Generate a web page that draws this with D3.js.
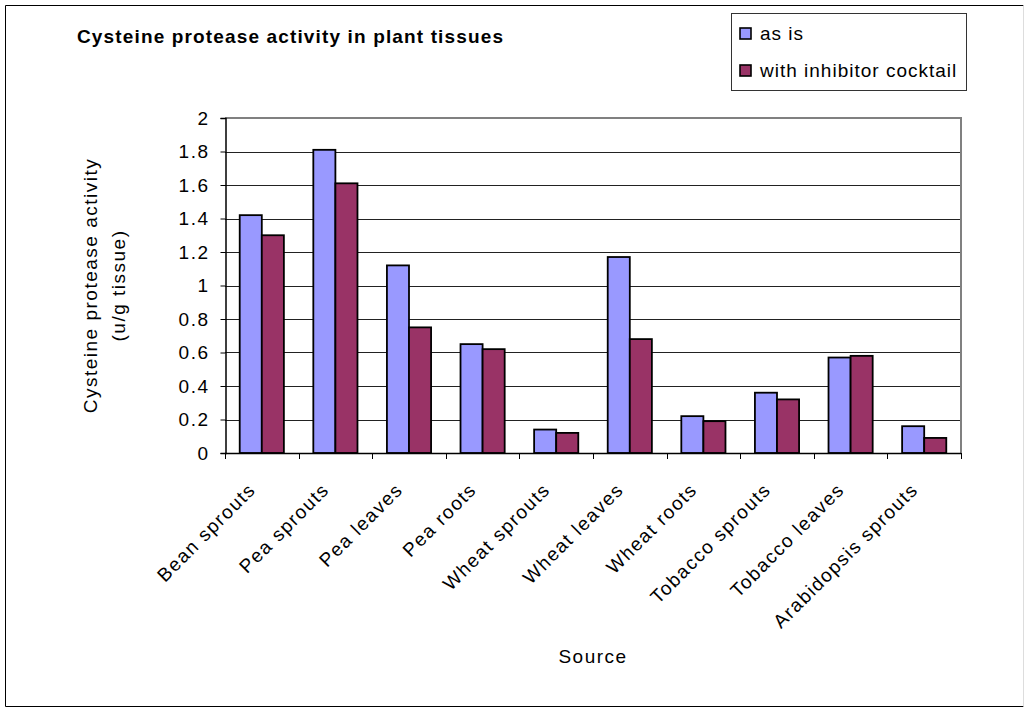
<!DOCTYPE html>
<html>
<head>
<meta charset="utf-8">
<script src="https://cdn.jsdelivr.net/npm/d3@7"></script>
<style>
  html, body { margin: 0; padding: 0; background: #fff; }
  svg { display: block; }
  text { font-family: "Liberation Sans", Arial, sans-serif; fill: #000; }
  .lbl { font-size: 19px; letter-spacing: 1.5px; }
  .leg { font-size: 19px; letter-spacing: 1px; }
</style>
</head>
<body>
<svg id="chart" width="1024" height="707"></svg>
<script>
// Cysteine protease activity (u/g tissue) per plant source
const categories = ["Bean sprouts", "Pea sprouts", "Pea leaves", "Pea roots", "Wheat sprouts",
  "Wheat leaves", "Wheat roots", "Tobacco sprouts", "Tobacco leaves", "Arabidopsis sprouts"];
const seriesNames = ["as is", "with inhibitor cocktail"];
const asIs = [1.42, 1.81, 1.12, 0.65, 0.14, 1.17, 0.22, 0.36, 0.57, 0.16];
const withInhibitor = [1.30, 1.61, 0.75, 0.62, 0.12, 0.68, 0.19, 0.32, 0.58, 0.09];
const yTicks = [0, 0.2, 0.4, 0.6, 0.8, 1, 1.2, 1.4, 1.6, 1.8, 2];
const colors = ["#9999FF", "#993366"];

const svg = d3.select("#chart");
const plot = { left: 225, right: 961, top: 118, bottom: 453 };

// outer chart frame
svg.append("line").attr("x1", 5.5).attr("x2", 5.5).attr("y1", 5.5).attr("y2", 706.5).attr("stroke", "#000");
svg.append("line").attr("x1", 5.5).attr("x2", 1023.5).attr("y1", 5.5).attr("y2", 5.5).attr("stroke", "#000");
svg.append("line").attr("x1", 5.5).attr("x2", 1023.5).attr("y1", 706.5).attr("y2", 706.5).attr("stroke", "#000");
svg.append("line").attr("x1", 1023.5).attr("x2", 1023.5).attr("y1", 5.5).attr("y2", 706.5).attr("stroke", "#ddd");

const x = d3.scaleBand().domain(categories).range([plot.left, plot.right]).padding(0);
const bw = x.bandwidth();
const x1 = d3.scaleBand().domain(seriesNames).range([bw * 0.2, bw * 0.8]).padding(0);
const y = d3.scaleLinear().domain([0, 2]).range([plot.bottom, plot.top]);

// horizontal gridlines
svg.append("g").selectAll("line")
  .data(yTicks.filter(v => v > 0 && v < 2))
  .join("line")
  .attr("x1", plot.left).attr("x2", plot.right)
  .attr("y1", d => Math.round(y(d)) + 0.5).attr("y2", d => Math.round(y(d)) + 0.5)
  .attr("stroke", "#222").attr("stroke-width", 1);

// plot area border (top and right)
svg.append("path")
  .attr("d", `M${plot.left},${plot.top}H${plot.right}V${plot.bottom}`)
  .attr("fill", "none").attr("stroke", "#808080").attr("stroke-width", 2);

// bars
const series = [asIs, withInhibitor];
const rows = [];
categories.forEach((c, i) => seriesNames.forEach((s, j) => rows.push({ c, s, v: series[j][i], j })));
svg.append("g").selectAll("rect")
  .data(rows)
  .join("rect")
  .attr("x", d => x(d.c) + x1(d.s))
  .attr("width", x1.bandwidth())
  .attr("y", d => y(d.v))
  .attr("height", d => y(0) - y(d.v))
  .attr("fill", d => colors[d.j])
  .attr("stroke", "#000").attr("stroke-width", 1.8);

// y axis
const yAxis = svg.append("g")
  .attr("transform", `translate(${plot.left + 0.5},0)`)
  .call(d3.axisLeft(y).tickValues(yTicks).tickSize(5).tickPadding(11).tickFormat(d3.format("~g")));
yAxis.select(".domain").attr("stroke", "#000").attr("stroke-width", 1.5);
yAxis.selectAll(".tick line").attr("stroke", "#000");
yAxis.selectAll(".tick text").attr("class", "lbl").attr("font-family", null).attr("font-size", null);

// x axis: ticks at category boundaries
const xAxisG = svg.append("g");
xAxisG.append("line")
  .attr("x1", plot.left).attr("x2", plot.right)
  .attr("y1", plot.bottom + 0.5).attr("y2", plot.bottom + 0.5)
  .attr("stroke", "#000").attr("stroke-width", 1.5);
const boundaries = categories.map(c => x(c)).concat([plot.right]);
xAxisG.selectAll("line.tk")
  .data(boundaries)
  .join("line").attr("class", "tk")
  .attr("x1", d => Math.round(d) + 0.5).attr("x2", d => Math.round(d) + 0.5)
  .attr("y1", plot.bottom).attr("y2", plot.bottom + 6)
  .attr("stroke", "#000");

xAxisG.selectAll("text")
  .data(categories)
  .join("text")
  .attr("class", "lbl")
  .attr("text-anchor", "end")
  .attr("transform", d => `translate(${x(d) + bw / 2 - 5},${plot.bottom + 38}) rotate(-45)`)
  .text(d => d);

// axis titles
svg.append("text").attr("class", "lbl")
  .attr("x", (plot.left + plot.right) / 2).attr("y", 663)
  .attr("text-anchor", "middle").text("Source");

const yt = svg.append("g").attr("transform", `translate(97,${(plot.top + plot.bottom) / 2}) rotate(-90)`);
yt.append("text").attr("class", "lbl").attr("text-anchor", "middle").attr("y", 0).text("Cysteine protease activity");
yt.append("text").attr("class", "lbl").attr("text-anchor", "middle").attr("y", 28).text("(u/g tissue)");

// chart title
svg.append("text")
  .attr("x", 77).attr("y", 43)
  .attr("font-size", 19).attr("font-weight", "bold")
  .attr("textLength", 426).attr("lengthAdjust", "spacing")
  .text("Cysteine protease activity in plant tissues");

// legend
const lg = svg.append("g");
lg.append("rect").attr("x", 731.5).attr("y", 13.5).attr("width", 235).attr("height", 77)
  .attr("fill", "#fff").attr("stroke", "#333").attr("stroke-width", 1);
seriesNames.forEach((s, j) => {
  const yy = 28 + j * 37;
  lg.append("rect").attr("x", 740).attr("y", yy).attr("width", 11).attr("height", 11)
    .attr("fill", colors[j]).attr("stroke", "#000").attr("stroke-width", 1.6);
  lg.append("text").attr("class", "leg").attr("x", 760).attr("y", yy + 12).text(s);
});
</script>
</body>
</html>
